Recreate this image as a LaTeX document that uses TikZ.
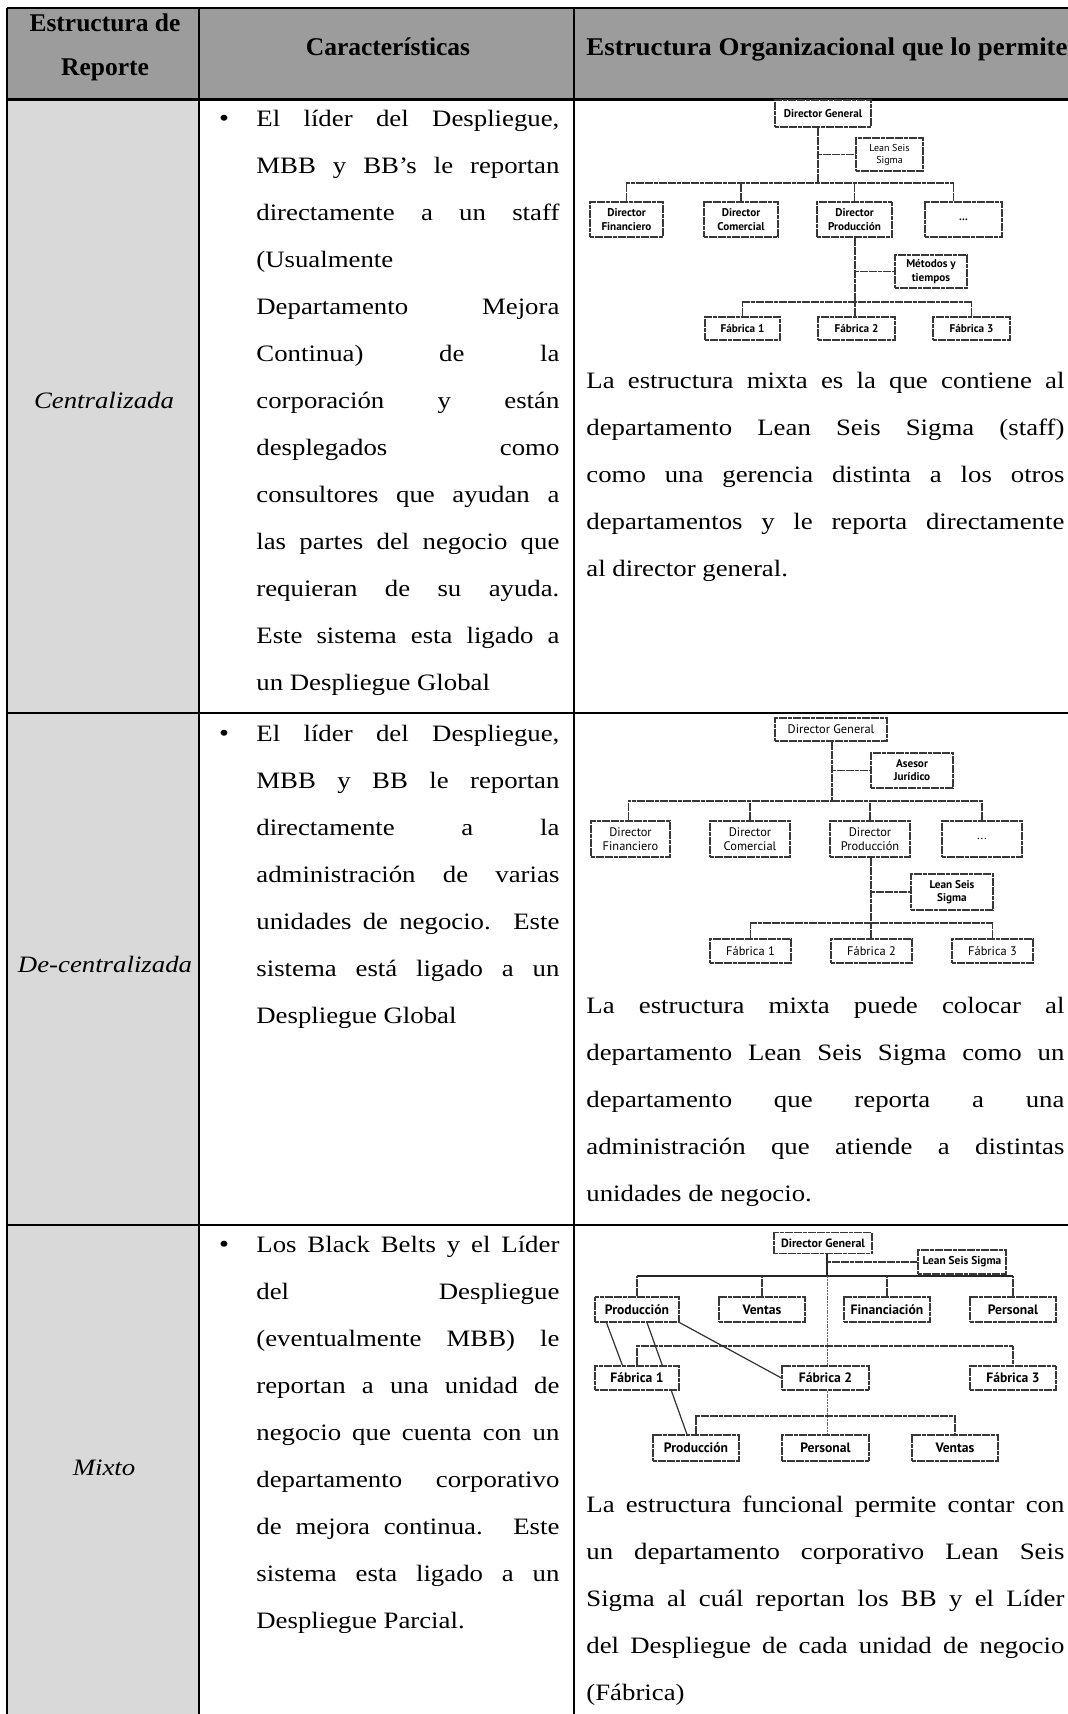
\documentclass[tikz,border=0pt]{standalone}
\usepackage{fontspec}
\usepackage{graphicx}
\setmainfont{Liberation Serif}[FakeStretch=1.14]
\newfontfamily\headfont{Liberation Serif}
\newfontfamily\chartfont{PT Sans}

\pgfdeclarelayer{bg}
\pgfdeclarelayer{links}
\pgfsetlayers{bg,links,main}

\definecolor{headgray}{gray}{0.61}
\definecolor{labelgray}{gray}{0.85}
\definecolor{boxline}{gray}{0.22}

% justified lines of the two text columns
\newcommand\colB[1]{\makebox[151.5pt][s]{#1}}
\newcommand\colC[1]{\makebox[239pt][s]{#1}}

\tikzset{
  body/.style={anchor=base west, inner sep=0pt, font=\fontsize{11.75}{14}\selectfont},
  rowtag/.style={anchor=base, inner sep=0pt, font=\fontsize{11.75}{14}\selectfont\itshape},
  bulletmark/.style={anchor=base, inner sep=0pt, font=\fontsize{12.5}{14}\selectfont},
  hdtext/.style={anchor=base, inner sep=0pt, font=\headfont\bfseries\fontsize{12.75}{15}\selectfont},
  wh/.style 2 args={minimum width=#1*0.5pt, minimum height=#2*0.5pt},
  orgbox/.style={draw=boxline, line width=0.55pt, dash pattern=on 2pt off 0.3pt,
                 fill=white, inner sep=0pt, align=center},
  link/.style={draw=boxline, line width=0.55pt, dash pattern=on 2pt off 0.3pt},
  boldlink/.style={draw=black!85, line width=1.3pt},
  thinlink/.style={draw=black!60, line width=0.4pt, dash pattern=on 1pt off 0.4pt},
  diag/.style={draw=black!80, line width=0.6pt},
  tablerule/.style={draw=black, line width=1pt},
  cAb/.style={font=\chartfont\bfseries\fontsize{5.6}{6.6}\selectfont},
  cAs/.style={font=\chartfont\fontsize{5}{6}\selectfont},
  cBr/.style={font=\chartfont\fontsize{6.2}{7.2}\selectfont},
  cBb/.style={font=\chartfont\bfseries\fontsize{5.6}{6.6}\selectfont},
  cCs/.style={font=\chartfont\bfseries\fontsize{5.7}{6.7}\selectfont},
  cCd/.style={font=\chartfont\bfseries\fontsize{6}{7}\selectfont},
  cCb/.style={font=\chartfont\bfseries\fontsize{6.8}{7.8}\selectfont},
}

\begin{document}
\begin{tikzpicture}[x=0.5pt, y=-0.5pt]
\useasboundingbox (0,0) rectangle (1068,1714);

% ---------- table background and rules ----------
\begin{pgfonlayer}{bg}
  \fill[white] (0,0) rectangle (1068,1714);
  \fill[headgray] (7,8) rectangle (1068,99);
  \fill[labelgray] (7,99) rectangle (199,1714);
  \draw[tablerule] (7,8) -- (1068,8);
  \draw[tablerule, line width=1.5pt] (7,99) -- (1068,99);
  \draw[tablerule] (7,713) -- (1068,713);
  \draw[tablerule] (7,1225) -- (1068,1225);
  \draw[tablerule] (7,8) -- (7,1714);
  \draw[tablerule] (199,8) -- (199,1714);
  \draw[tablerule] (574,8) -- (574,1714);
\end{pgfonlayer}

% ---------- header ----------
\node[hdtext] (h1a) at (105,31) {Estructura de};
\node[hdtext] (h1b) at (105,75) {Reporte};
\node[hdtext] (h2) at (388,55) {Características};
\node[hdtext, anchor=base west] (h3) at (586,55)
  {\scalebox{1.055}[1]{Estructura Organizacional que lo permite}};

% ---------- first column ----------
\node[rowtag] (t1) at (104,408) {Centralizada};
\node[rowtag] (t2) at (105,972) {De-centralizada};
\node[rowtag] (t3) at (104,1475) {Mixto};

% ---------- second column ----------
\node[bulletmark] (ba) at (224,126) {\textbullet};
\foreach \t [count=\i from 0] in {{El líder del Despliegue,},{MBB y BB’s le reportan},
    {directamente a un staff},{(Usualmente},{Departamento Mejora},{Continua) de la},
    {corporación y están},{desplegados como},{consultores que ayudan a},
    {las partes del negocio que},{requieran de su ayuda.},{Este sistema esta ligado a}}
  \node[body] (a\i) at (256,{126+47*\i}) {\colB{\t}};
\node[body] (aend) at (256,690) {un Despliegue Global};

\node[bulletmark] (bb) at (224,741) {\textbullet};
\foreach \t [count=\i from 0] in {{El líder del Despliegue,},{MBB y BB le reportan},
    {directamente a la},{administración de varias},{unidades de negocio. Este},
    {sistema está ligado a un}}
  \node[body] (b\i) at (256,{741+47*\i}) {\colB{\t}};
\node[body] (bend) at (256,1023) {Despliegue Global};

\node[bulletmark] (bc) at (224,1252) {\textbullet};
\foreach \t [count=\i from 0] in {{Los Black Belts y el Líder},{del Despliegue},
    {(eventualmente MBB) le},{reportan a una unidad de},{negocio que cuenta con un},
    {departamento corporativo},{de mejora continua. Este},{sistema esta ligado a un}}
  \node[body] (c\i) at (256,{1252+47*\i}) {\colB{\t}};
\node[body] (cend) at (256,1628) {Despliegue Parcial.};

% ---------- third column: texts ----------
\foreach \t [count=\i from 0] in {{La estructura mixta es la que contiene al},
    {departamento Lean Seis Sigma (staff)},{como una gerencia distinta a los otros},
    {departamentos y le reporta directamente}}
  \node[body] (d\i) at (586,{388+47*\i}) {\colC{\t}};
\node[body] (dend) at (586,576) {al director general.};

\foreach \t [count=\i from 0] in {{La estructura mixta puede colocar al},
    {departamento Lean Seis Sigma como un},{departamento que reporta a una},
    {administración que atiende a distintas}}
  \node[body] (e\i) at (586,{1013+47*\i}) {\colC{\t}};
\node[body] (eend) at (586,1201) {unidades de negocio.};

\foreach \t [count=\i from 0] in {{La estructura funcional permite contar con},
    {un departamento corporativo Lean Seis},{Sigma al cuál reportan los BB y el Líder},
    {del Despliegue de cada unidad de negocio}}
  \node[body] (f\i) at (586,{1512+47*\i}) {\colC{\t}};
\node[body] (fend) at (586,1700) {(Fábrica)};

% ---------- chart 1: centralised ----------
\node[orgbox, wh={96}{27}, cAb] (c1dg) at (823,113.5) {Director General};
\node[orgbox, wh={67}{33}, cAs] (c1ls) at (889.5,154.5) {Lean Seis\\Sigma};
\node[orgbox, wh={73}{35}, cAb] (c1df) at (626.5,219.5) {Director\\Financiero};
\node[orgbox, wh={74}{35}, cAb] (c1dc) at (741,219.5) {Director\\Comercial};
\node[orgbox, wh={75}{35}, cAb] (c1dp) at (854.5,219.5) {Director\\Producción};
\node[orgbox, wh={77}{35}, cAb] (c1dx) at (963.5,219.5) {...};
\node[orgbox, wh={72}{33}, cAb] (c1mt) at (931,271.5) {Métodos y\\tiempos};
\node[orgbox, wh={75}{23}, cAb] (c1f1) at (742.5,328.5) {Fábrica 1};
\node[orgbox, wh={77}{23}, cAb] (c1f2) at (856.5,328.5) {Fábrica 2};
\node[orgbox, wh={77}{23}, cAb] (c1f3) at (971.5,328.5) {Fábrica 3};

% ---------- chart 2: decentralised ----------
\node[orgbox, wh={112}{23}, cBr] (c2dg) at (831,729.5) {Director General};
\node[orgbox, wh={82}{35}, cBb] (c2aj) at (912,770.5) {Asesor\\Jurídico};
\node[orgbox, wh={79}{36}, cBr] (c2df) at (630.5,839) {Director\\Financiero};
\node[orgbox, wh={80}{36}, cBr] (c2dc) at (750,839) {Director\\Comercial};
\node[orgbox, wh={80}{36}, cBr] (c2dp) at (870,839) {Director\\Producción};
\node[orgbox, wh={80}{36}, cBr] (c2dx) at (982,839) {...};
\node[orgbox, wh={82}{36}, cBb] (c2ls) at (952,892) {Lean Seis\\Sigma};
\node[orgbox, wh={81}{24}, cBr] (c2f1) at (750.5,951) {Fábrica 1};
\node[orgbox, wh={81}{24}, cBr] (c2f2) at (871.5,951) {Fábrica 2};
\node[orgbox, wh={81}{24}, cBr] (c2f3) at (992.5,951) {Fábrica 3};

% ---------- chart 3: mixed ----------
\node[orgbox, wh={98}{21}, cCd] (c3dg) at (823,1243) {Director General};
\node[orgbox, wh={88}{24}, cCs] (c3ls) at (962,1262) {Lean Seis Sigma};
\node[orgbox, wh={84}{25}, cCb] (c3p1) at (637,1309.5) {Producción};
\node[orgbox, wh={86}{25}, cCb] (c3ve) at (762,1309.5) {Ventas};
\node[orgbox, wh={86}{25}, cCb] (c3fi) at (887,1309.5) {Financiación};
\node[orgbox, wh={86}{25}, cCb] (c3pe) at (1013,1309.5) {Personal};
\node[orgbox, wh={84}{24}, cCb] (c3f1) at (637,1378) {Fábrica 1};
\node[orgbox, wh={87}{24}, cCb] (c3f2) at (825.5,1378) {Fábrica 2};
\node[orgbox, wh={86}{24}, cCb] (c3f3) at (1013,1378) {Fábrica 3};
\node[orgbox, wh={86}{26}, cCb] (c3p2) at (696,1448) {Producción};
\node[orgbox, wh={87}{26}, cCb] (c3pr) at (825.5,1448) {Personal};
\node[orgbox, wh={86}{26}, cCb] (c3v2) at (955,1448) {Ventas};

% ---------- connectors ----------
\begin{pgfonlayer}{links}
  % chart 1
  \coordinate (c1b1) at (818,183);
  \coordinate (c1b2) at (855,302);
  \draw[link] (c1dg.south -| c1b1) -- (c1b1);
  \draw[link] (c1b1 |- c1ls.west) -- (c1ls.west);
  \draw[link] (c1df.north) |- (c1b1);
  \draw[link] ([xshift=-5pt]c1dx.north) |- (c1b1);
  \draw[link] (c1dc.north) -- (c1dc.north |- c1b1);
  \draw[link] (c1dp.north) -- (c1dp.north |- c1b1);
  \draw[link] (c1dp.south -| c1b2) -- (c1b2);
  \draw[link] (c1b2 |- c1mt.west) -- (c1mt.west);
  \draw[link] (c1f1.north) |- (c1b2);
  \draw[link] (c1f3.north) |- (c1b2);
  \draw[link] (c1f2.north -| c1b2) -- (c1b2);
  % chart 2
  \coordinate (c2b1) at (832,801);
  \coordinate (c2b2) at (871,923);
  \draw[link] (c2dg.south -| c2b1) -- (c2b1);
  \draw[link] (c2b1 |- c2aj.west) -- (c2aj.west);
  \draw[link] ([xshift=-1pt]c2df.north) |- (c2b1);
  \draw[link] (c2dx.north) |- (c2b1);
  \draw[link] (c2dc.north) -- (c2dc.north |- c2b1);
  \draw[link] (c2dp.north) -- (c2dp.north |- c2b1);
  \draw[link] (c2dp.south -| c2b2) -- (c2b2);
  \draw[link] (c2b2 |- c2ls.west) -- (c2ls.west);
  \draw[link] (c2f1.north) |- (c2b2);
  \draw[link] (c2f3.north) |- (c2b2);
  \draw[link] (c2f2.north -| c2b2) -- (c2b2);
  % chart 3
  \coordinate (c3tr) at (827,1276);
  \coordinate (c3b2) at (827,1346);
  \coordinate (c3b3) at (827,1416);
  \draw[boldlink] (c3dg.south -| c3tr) -- (c3tr);
  \draw[boldlink] (c3p1.north |- c3tr) -- (c3pe.north |- c3tr);
  \draw[link] (c3tr |- c3ls.west) -- (c3ls.west);
  \draw[link] (c3p1.north) -- (c3p1.north |- c3tr);
  \draw[link] (c3ve.north) -- (c3ve.north |- c3tr);
  \draw[link] (c3fi.north) -- (c3fi.north |- c3tr);
  \draw[link] (c3pe.north) -- (c3pe.north |- c3tr);
  \draw[thinlink] (c3tr) -- (c3pr.north -| c3tr);
  \draw[link] (c3f1.north) -- (c3f1.north |- c3b2) -- (c3f3.north |- c3b2) -- (c3f3.north);
  \draw[link] (c3p2.north) -- (c3p2.north |- c3b3) -- (c3v2.north |- c3b3) -- (c3v2.north);
  \draw[diag] ([xshift=6pt]c3p1.south west) -- ([xshift=14pt]c3f1.north west);
  \draw[diag] ([xshift=5pt]c3p1.south) -- ([xshift=-4.5pt]c3p2.north);
  \draw[diag] (c3p1.south east) -- (c3f2.west);
\end{pgfonlayer}
\end{tikzpicture}
\end{document}
